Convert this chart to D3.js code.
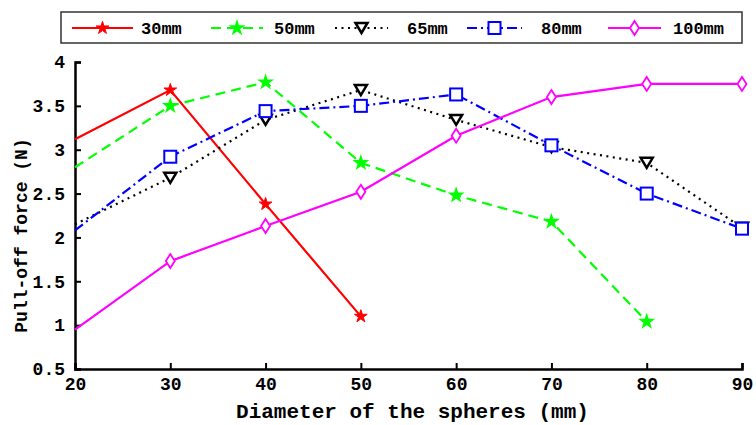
<!DOCTYPE html>
<html>
<head>
<meta charset="utf-8">
<script src="https://cdn.jsdelivr.net/npm/d3@7"></script>
<style>
  body { margin: 0; background: #fff; }
  svg text { font-family: "Liberation Mono", "DejaVu Sans Mono", monospace; font-weight: bold; fill: #000; }
</style>
</head>
<body>
<div id="chart"></div>
<script>
// data
const diameters = [20, 30, 40, 50, 60, 70, 80, 90];
const xTicks = [20, 30, 40, 50, 60, 70, 80, 90];
const yTicks = [0.5, 1, 1.5, 2, 2.5, 3, 3.5, 4];
const yTickLabels = ["0.5", "1", "1.5", "2", "2.5", "3", "3.5", "4"];

const seriesNames = ["30mm", "50mm", "65mm", "80mm", "100mm"];
const force30 = [3.12, 3.68, 2.38, 1.1];
const force50 = [2.8, 3.5, 3.77, 2.85, 2.48, 2.18, 1.04];
const force65 = [2.15, 2.68, 3.34, 3.68, 3.34, 3.03, 2.85, 2.11];
const force80 = [2.08, 2.92, 3.44, 3.5, 3.63, 3.05, 2.5, 2.1];
const force100 = [0.95, 1.73, 2.13, 2.52, 3.16, 3.6, 3.75, 3.75];

const W = 756, H = 425;
const margin = {left: 75, right: 14, top: 62, bottom: 56};

const svg = d3.select("#chart").append("svg")
  .attr("width", W).attr("height", H);

const x = d3.scaleLinear().domain([20, 90]).range([margin.left, W - margin.right]);
const y = d3.scaleLinear().domain([0.5, 4]).range([H - margin.bottom, margin.top]);

const styles = [
  {color: "#ff0000", dash: null, marker: "asterisk"},
  {color: "#00ff00", dash: "10,6", marker: "star"},
  {color: "#000000", dash: "2,4.5", marker: "tri"},
  {color: "#0000ff", dash: "10,4,2,4", marker: "square"},
  {color: "#ff00ff", dash: null, marker: "diamond"}
];
const allValues = [force30, force50, force65, force80, force100];

function drawMarker(g, kind, color) {
  if (kind === "asterisk") {
    g.append("path").attr("d", d3.symbol(d3.symbolStar, 50)())
      .attr("fill", color).attr("stroke", color).attr("stroke-width", 1);
  } else if (kind === "star") {
    g.append("path").attr("d", d3.symbol(d3.symbolStar, 90)())
      .attr("fill", color);
  } else if (kind === "tri") {
    g.append("path").attr("d", "M-6,-5L6,-5L0,5Z")
      .attr("fill", "#fff").attr("stroke", color).attr("stroke-width", 2.5);
  } else if (kind === "square") {
    g.append("rect").attr("x", -6).attr("y", -6).attr("width", 12).attr("height", 12)
      .attr("fill", "#fff").attr("stroke", color).attr("stroke-width", 2);
  } else if (kind === "diamond") {
    g.append("path").attr("d", "M0,-7L4.5,0L0,7L-4.5,0Z")
      .attr("fill", "#fff").attr("stroke", color).attr("stroke-width", 1.8);
  }
}

// axes
const xAxis = d3.axisBottom(x).tickValues(xTicks).tickSizeInner(-6).tickSizeOuter(-6).tickPadding(10);
const yAxis = d3.axisLeft(y).tickValues(yTicks).tickSizeInner(-6).tickSizeOuter(-6).tickPadding(10)
  .tickFormat((d, i) => yTickLabels[i]);

const gx = svg.append("g").attr("transform", `translate(0,${y(0.5)})`).call(xAxis);
const gy = svg.append("g").attr("transform", `translate(${x(20)},0)`).call(yAxis);
[gx, gy].forEach(g => {
  g.select(".domain").attr("stroke", "#000").attr("stroke-width", 2.5);
  g.selectAll(".tick line").attr("stroke", "#000").attr("stroke-width", 2);
  g.selectAll(".tick text").style("font-size", "18px").attr("fill", "#000");
});
gx.selectAll(".tick text").attr("dy", "0.6em");

// lines
const line = d3.line().x((d, i) => x(diameters[i])).y(d => y(d));

allValues.forEach((vals, k) => {
  const s = styles[k];
  svg.append("path").datum(vals)
    .attr("d", line)
    .attr("fill", "none")
    .attr("stroke", s.color)
    .attr("stroke-width", 2.2)
    .attr("stroke-dasharray", s.dash);
});
// markers (the reference shows none on the first point, at the axis)
allValues.forEach((vals, k) => {
  const s = styles[k];
  vals.forEach((v, i) => {
    if (i === 0) return;
    const g = svg.append("g").attr("transform", `translate(${x(diameters[i])},${y(v)})`);
    drawMarker(g, s.marker, s.color);
  });
});

// axis titles
svg.append("text")
  .attr("x", (x(20) + x(90)) / 2 + 4).attr("y", 418)
  .attr("text-anchor", "middle").style("font-size", "21px")
  .text("Diameter of the spheres (mm)");

svg.append("text")
  .attr("transform", `translate(27,${(y(0.5) + y(4)) / 2 + 20}) rotate(-90)`)
  .attr("text-anchor", "middle").style("font-size", "18px")
  .text("Pull-off force (N)");

// legend
const legend = svg.append("g");
legend.append("rect").attr("x", 61).attr("y", 12).attr("width", 681).attr("height", 31)
  .attr("fill", "#fff").attr("stroke", "#333").attr("stroke-width", 1.5);
const legendPos = [
  {x1: 72, x2: 133, tx: 141},
  {x1: 211, x2: 263, tx: 274},
  {x1: 335, x2: 388, tx: 407},
  {x1: 467, x2: 522, tx: 541},
  {x1: 608, x2: 661, tx: 673}
];
seriesNames.forEach((name, k) => {
  const s = styles[k], p = legendPos[k];
  const ly = 28;
  legend.append("line").attr("x1", p.x1).attr("x2", p.x2).attr("y1", ly).attr("y2", ly)
    .attr("stroke", s.color).attr("stroke-width", 2.2).attr("stroke-dasharray", s.dash);
  const g = legend.append("g").attr("transform", `translate(${(p.x1 + p.x2) / 2},${ly})`);
  drawMarker(g, s.marker, s.color);
  legend.append("text").attr("x", p.tx).attr("y", ly + 6).style("font-size", "17px").text(name);
});
</script>
</body>
</html>
